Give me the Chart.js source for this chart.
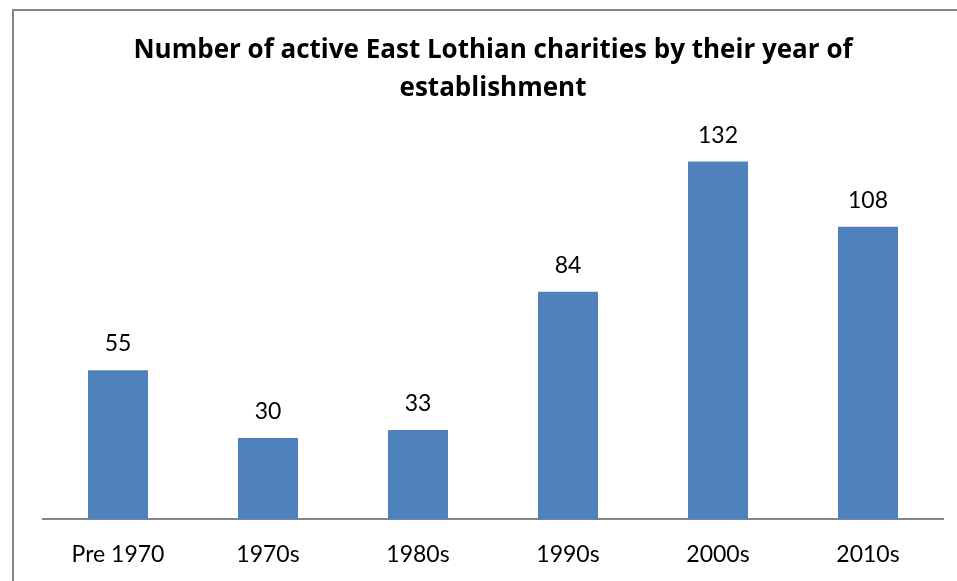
<!DOCTYPE html>
<html lang="en">
<head>
  <meta charset="UTF-8" />
  <title>East Lothian charities by year of establishment</title>
  <script src="https://cdn.jsdelivr.net/npm/chart.js"></script>
  <style>
    html, body { margin: 0; padding: 0; background: #fff; overflow: hidden; }
    #frame {
      position: absolute; left: 12px; top: 9px;
      width: 1000px; height: 1000px;
      border: 2px solid #868686;
    }
    #wrap { position: absolute; left: 0; top: 0; width: 957px; height: 581px; }
  </style>
</head>
<body>
  <div id="frame"></div>
  <div id="wrap"><canvas id="chart" width="957" height="581"></canvas></div>

  <script>
    const categories = ['Pre 1970', '1970s', '1980s', '1990s', '2000s', '2010s'];
    const charityCounts = [55, 30, 33, 84, 132, 108];
    const titleLines = ['Number of active East Lothian charities by their year of', 'establishment'];

    const barColor = '#4F81BD';
    const axisColor = '#868686';
    const fontFamily = 'Lato, "Open Sans", sans-serif';
    const titleFamily = '"Open Sans", Lato, sans-serif';

    // draws the value above each bar (no datalabels plugin offline)
    const valueLabels = {
      id: 'valueLabels',
      afterDatasetsDraw(chart) {
        const ctx = chart.ctx;
        const meta = chart.getDatasetMeta(0);
        ctx.save();
        ctx.font = '23px ' + fontFamily;
        ctx.fillStyle = '#000';
        ctx.textAlign = 'center';
        ctx.textBaseline = 'alphabetic';
        meta.data.forEach((bar, i) => {
          ctx.fillText(String(charityCounts[i]), bar.x, bar.y - 19);
        });
        ctx.restore();
      }
    };

    const ctx = document.getElementById('chart').getContext('2d');
    new Chart(ctx, {
      type: 'bar',
      data: {
        labels: categories,
        datasets: [{
          data: charityCounts,
          backgroundColor: barColor,
          borderWidth: 0,
          barPercentage: 0.4,
          categoryPercentage: 1.0
        }]
      },
      options: {
        responsive: false,
        animation: false,
        events: [],
        layout: { padding: { left: 43, right: 14, top: 0, bottom: 0 } },
        plugins: {
          legend: { display: false },
          tooltip: { enabled: false },
          title: {
            display: true,
            text: titleLines,
            color: '#000',
            font: { family: titleFamily, size: 26, weight: 'bold', lineHeight: 1.46 },
            padding: { top: 32, bottom: 32 }
          }
        },
        scales: {
          x: {
            grid: { display: false },
            border: { display: true, color: axisColor, width: 2 },
            ticks: { color: '#000', padding: 13, font: { family: fontFamily, size: 23 } }
          },
          y: {
            display: false,
            min: 0,
            max: 140
          }
        }
      },
      plugins: [valueLabels]
    });
  </script>
</body>
</html>
